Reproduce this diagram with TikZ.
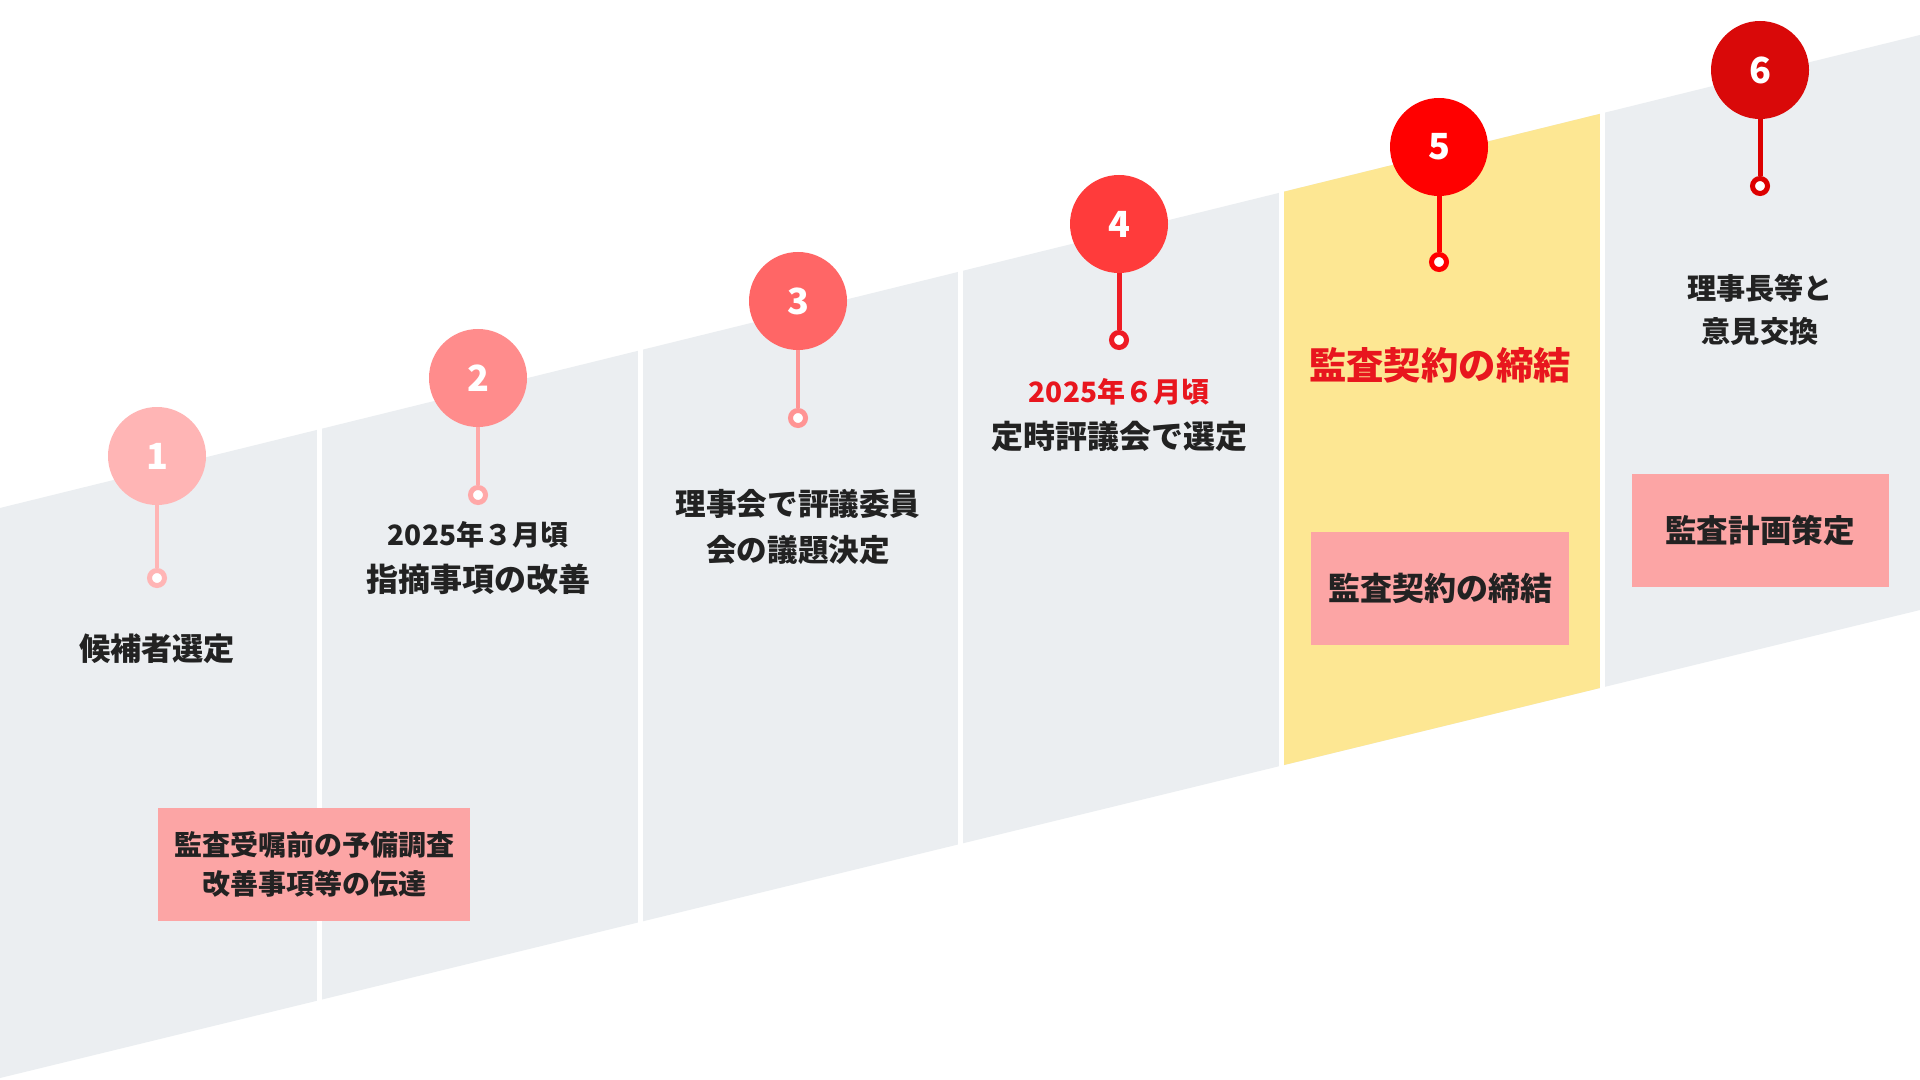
\documentclass[tikz,border=0pt]{standalone}
\usepackage{fontspec}
\setmainfont{Noto Sans CJK JP}
\usetikzlibrary{positioning}
\definecolor{ink}{HTML}{222222}
\definecolor{band}{HTML}{EBEEF1}
\definecolor{bandHi}{HTML}{FDE793}
\definecolor{boxPink}{HTML}{FCA5A5}
\definecolor{alert}{HTML}{E8161E}
\definecolor{pinA}{HTML}{FFB5B5}
\definecolor{pinB}{HTML}{FF8C8C}
\definecolor{pinC}{HTML}{FF6666}
\definecolor{pinD}{HTML}{FF3B3B}
\definecolor{pinE}{HTML}{FF0000}
\definecolor{pinF}{HTML}{D90909}
\definecolor{stemB}{HTML}{FFA8A8}
\definecolor{stemC}{HTML}{FF9494}
\definecolor{stemD}{HTML}{EE1C25}
\definecolor{stemF}{HTML}{DD0000}

\begin{document}
\begin{tikzpicture}[x=0.5pt,y=-0.5pt,
    pin/.style={circle,minimum size=49pt,inner sep=0pt,text=white,
      font=\bfseries\fontsize{18}{18}\selectfont},
    ring/.style={circle,draw,fill=white,line width=2.5pt,minimum size=7.5pt,inner sep=0pt},
    stem/.style={line width=2.2pt},
    lbl/.style={text=ink,align=center,font=\bfseries\fontsize{16}{24}\selectfont},
    date/.style={text=ink,font=\bfseries\fontsize{14}{16}\selectfont},
    note/.style={fill=boxPink,text=ink,align=center,minimum height=56.5pt,
      font=\bfseries\fontsize{16}{20}\selectfont}]
    % canvas and slanted band
    \useasboundingbox (0,0) rectangle (1920,1080);
    \fill[white] (0,0) rectangle (1920,1080);
    \fill[band] (0,508) -- (1920,35) -- (1920,610) -- (0,1078) -- cycle;
    \begin{scope}
      \clip (0,508) -- (1920,35) -- (1920,610) -- (0,1078) -- cycle;
      \fill[bandHi] (1281,0) rectangle (1602,1080);
    \end{scope}
    \foreach \x in {319,640,960,1281,1602}
      \draw[white,line width=2.5pt] (\x,0) -- (\x,1080);
    % pins
    \node[pin,fill=pinA] (n1) at (157,456) {1};
    \node[ring,draw=pinA] (r1) at (157,578) {};
    \draw[stem,pinA] (n1) -- (r1);
    \node[pin,fill=pinB] (n2) at (478,378) {2};
    \node[ring,draw=stemB] (r2) at (478,495) {};
    \draw[stem,stemB] (n2) -- (r2);
    \node[pin,fill=pinC] (n3) at (798,301) {3};
    \node[ring,draw=stemC] (r3) at (798,418) {};
    \draw[stem,stemC] (n3) -- (r3);
    \node[pin,fill=pinD] (n4) at (1119,224) {4};
    \node[ring,draw=stemD] (r4) at (1119,340) {};
    \draw[stem,stemD,line width=2.5pt] (n4) -- (r4);
    \node[pin,fill=pinE] (n5) at (1439,147) {5};
    \node[ring,draw=pinE] (r5) at (1439,262) {};
    \draw[stem,pinE,line width=2.5pt] (n5) -- (r5);
    \node[pin,fill=pinF] (n6) at (1760,70) {6};
    \node[ring,draw=stemF] (r6) at (1760,186) {};
    \draw[stem,stemF,line width=2.5pt] (n6) -- (r6);
    % labels
    \node[lbl,font=\bfseries\fontsize{15.6}{24}\selectfont] (t1) at (157,649) {候補者選定};
    \node[date] (d2) at (478,535) {2025年３月頃};
    \node[lbl] (t2) at (478,579) {指摘事項の改善};
    \node[lbl,font=\bfseries\fontsize{15.3}{23}\selectfont] (t3) at (798,527)
      {理事会で評議委員\\会の議題決定};
    \node[date,text=alert] (d4) at (1119,392) {2025年６月頃};
    \node[lbl] (t4) at (1119,436) {定時評議会で選定};
    \node[lbl,text=alert,font=\bfseries\fontsize{18.7}{22}\selectfont] (t5) at (1440,365)
      {監査契約の締結};
    \node[lbl,font=\bfseries\fontsize{14.6}{21.4}\selectfont] (t6) at (1760,310)
      {理事長等と\\意見交換};
    % boxes
    \node[note,minimum width=129pt] (b5) at (1440,588) {監査契約の締結};
    \node[note,minimum width=128.5pt,font=\bfseries\fontsize{15.8}{20}\selectfont] (b6)
      at (1760,530) {監査計画策定};
    \node[note,minimum width=156pt,font=\bfseries\fontsize{14}{19.5}\selectfont] (b1)
      at (314,864) {監査受嘱前の予備調査\\改善事項等の伝達};
  \end{tikzpicture}
\end{document}
